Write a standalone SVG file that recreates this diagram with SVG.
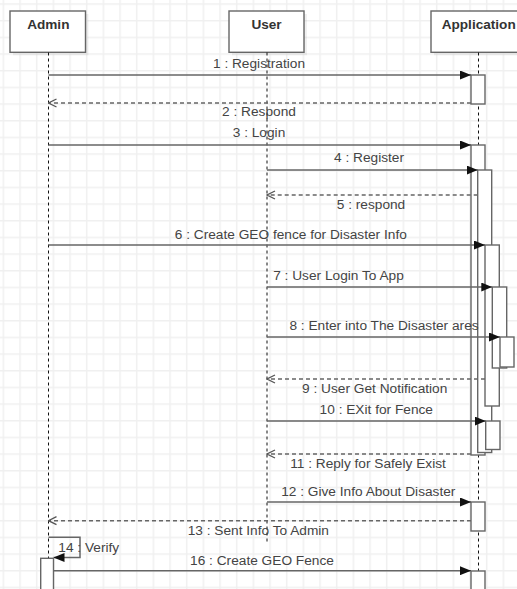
<svg xmlns="http://www.w3.org/2000/svg" width="517" height="589" viewBox="0 0 517 589">
<style>
.hdr{fill:#fff;stroke:#666;stroke-width:1.4}
.shd{fill:#000;opacity:0.06}
.htxt{font-family:"Liberation Sans",Arial,sans-serif;font-size:13.6px;font-weight:bold;fill:#333;text-anchor:middle}
.life{stroke:#111;stroke-width:1;stroke-dasharray:3 3;fill:none}
.act{fill:#fff;stroke:#666;stroke-width:1.4}
.msg{stroke:#666;stroke-width:1.5;fill:none;marker-end:url(#fa)}
.ret{stroke:#666;stroke-width:1.5;fill:none;stroke-dasharray:4 3;marker-end:url(#oa)}
.lbl{font-family:"Liberation Sans",Arial,sans-serif;font-size:13.7px;fill:#444;text-anchor:middle}
</style>
<defs>
<pattern id="grid" x="2.6" y="3.3" width="16.667" height="16.667" patternUnits="userSpaceOnUse">
<path d="M0.75 0V16.667M0 0.75H16.667" stroke="#f0f0f0" stroke-width="1.5" fill="none"/>
</pattern>
<marker id="fa" viewBox="0 0 11 9" refX="11" refY="4.5" markerWidth="11" markerHeight="9" orient="auto" markerUnits="userSpaceOnUse">
<path d="M0 0L11 4.5L0 9z" fill="#111"/>
</marker>
<marker id="oa" viewBox="0 0 10 10" refX="9" refY="5" markerWidth="10" markerHeight="10" orient="auto" markerUnits="userSpaceOnUse">
<path d="M1 1L9 5L1 9" fill="none" stroke="#555" stroke-width="1.3"/>
</marker>
</defs>
<rect width="517" height="589" fill="#fff"/>
<rect width="517" height="589" fill="url(#grid)"/>

<g id="admin">
<rect class="shd" x="13" y="14" width="75.5" height="41.3"/>
<rect class="hdr" x="10" y="11" width="75.5" height="41.3"/>
<text class="htxt" x="48.3" y="29">Admin</text>
<line class="life" x1="48.5" y1="52.5" x2="48.5" y2="589"/>
<rect class="act" x="40.7" y="558.3" width="12.8" height="40"/>
</g>

<g id="user">
<rect class="shd" x="232" y="14" width="75" height="41.3"/>
<rect class="hdr" x="229" y="11" width="75" height="41.3"/>
<text class="htxt" x="266.5" y="29">User</text>
<line class="life" x1="267" y1="52.5" x2="267" y2="541.7"/>
</g>

<g id="application">
<rect class="shd" x="434" y="14" width="95" height="41.3"/>
<rect class="hdr" x="431" y="11" width="95" height="41.3"/>
<text class="htxt" x="478.7" y="29">Application</text>
<line class="life" x1="478.5" y1="52.5" x2="478.5" y2="589"/>
<rect class="act" x="471" y="75" width="14" height="29"/>
<rect class="act" x="471" y="145" width="14" height="310"/>
<rect class="act" x="477.7" y="170" width="14" height="282.5"/>
<rect class="act" x="485" y="245" width="14.3" height="161"/>
<rect class="act" x="492.3" y="287" width="14.4" height="81"/>
<rect class="act" x="500" y="337" width="14" height="30"/>
<rect class="act" x="485.7" y="421" width="14.3" height="28.5"/>
<rect class="act" x="471" y="502" width="14" height="29"/>
<rect class="act" x="471" y="571" width="14" height="30"/>
</g>

<g id="connectors">
<line class="msg" x1="48.5" y1="75" x2="471" y2="75"/>
<text class="lbl" x="259" y="68">1 : Registration</text>
<line class="ret" x1="471" y1="103" x2="48.5" y2="103"/>
<text class="lbl" x="259" y="116">2 : Respond</text>
<line class="msg" x1="48.5" y1="145" x2="471" y2="145"/>
<text class="lbl" x="259" y="137">3 : Login</text>
<line class="msg" x1="267" y1="170" x2="477.7" y2="170"/>
<text class="lbl" x="369" y="162">4 : Register</text>
<line class="ret" x1="477.7" y1="195" x2="267" y2="195"/>
<text class="lbl" x="371" y="209">5 : respond</text>
<line class="msg" x1="48.5" y1="245" x2="485" y2="245"/>
<text class="lbl" x="290.8" y="238.5">6 : Create GEO fence for Disaster Info</text>
<line class="msg" x1="267" y1="287" x2="492.3" y2="287"/>
<text class="lbl" x="338.5" y="280">7 : User Login To App</text>
<line class="msg" x1="267" y1="337" x2="500" y2="337"/>
<text class="lbl" x="384" y="330">8 : Enter into The Disaster ares</text>
<line class="ret" x1="485" y1="379" x2="267" y2="379"/>
<text class="lbl" x="374.7" y="393">9 : User Get Notification</text>
<line class="msg" x1="267" y1="421" x2="485.7" y2="421"/>
<text class="lbl" x="376.3" y="414">10 : EXit for Fence</text>
<line class="ret" x1="471" y1="454" x2="267" y2="454"/>
<text class="lbl" x="368" y="468">11 : Reply for Safely Exist</text>
<line class="msg" x1="267" y1="502" x2="471" y2="502"/>
<text class="lbl" x="368.3" y="496">12 : Give Info About Disaster</text>
<line class="ret" x1="471" y1="520.7" x2="48.5" y2="520.7"/>
<text class="lbl" x="258.3" y="535">13 : Sent Info To Admin</text>
<polyline class="msg" points="48.5,537.3 80,537.3 80,557.5 53.5,557.5"/>
<text class="lbl" x="58.3" y="551.5" style="text-anchor:start">14 : Verify</text>
<line class="msg" x1="53.5" y1="570.7" x2="471" y2="570.7"/>
<text class="lbl" x="262" y="565">16 : Create GEO Fence</text>
</g>
</svg>
